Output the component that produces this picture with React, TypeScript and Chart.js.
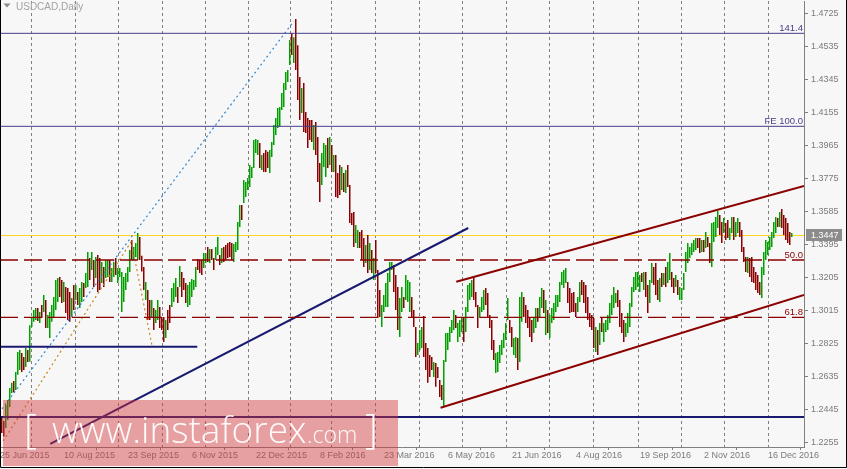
import React, { useEffect, useRef } from 'react';
import { Chart, registerables } from 'chart.js';

Chart.register(...registerables);

// ---- Daily USDCAD bars: high, low, direction (1 = up bar, 0 = down bar) ----
const barHigh = [
  1.2403,1.2380,1.2472,1.2501,1.2570,1.2600,1.2610,1.2662,1.2777,1.2788,
  1.2771,1.2748,1.2800,1.2788,1.2930,1.2978,1.3018,1.3030,1.3030,1.3007,
  1.3047,1.3105,1.3076,1.2990,1.3007,1.3047,1.3093,1.3191,1.3202,1.3208,
  1.3191,1.3179,1.3150,1.3145,1.3122,1.3087,1.3162,1.3162,1.3122,1.3145,
  1.3179,1.3173,1.3231,1.3352,1.3317,1.3352,1.3306,1.3323,1.3335,1.3317,
  1.3294,1.3265,1.3306,1.3306,1.3306,1.3260,1.3294,1.3317,1.3260,1.3260,
  1.3237,1.3208,1.3231,1.3265,1.3363,1.3421,1.3381,1.3404,1.3461,1.3438,
  1.3330,1.3265,1.3179,1.3133,1.3076,1.3076,1.3030,1.3018,1.3076,1.3036,
  1.2978,1.2978,1.2961,1.3018,1.3047,1.3145,1.3173,1.3202,1.3150,1.3271,
  1.3237,1.3202,1.3173,1.3162,1.3179,1.3196,1.3191,1.3265,1.3312,1.3306,
  1.3306,1.3346,1.3346,1.3381,1.3369,1.3369,1.3317,1.3381,1.3438,1.3335,
  1.3375,1.3381,1.3392,1.3404,1.3410,1.3404,1.3398,1.3410,1.3525,1.3622,
  1.3622,1.3766,1.3755,1.3778,1.3853,1.3841,1.3996,1.4002,1.3996,1.3979,
  1.3910,1.3922,1.3939,1.3928,1.3939,1.3985,1.4083,1.4123,1.4180,1.4186,
  1.4267,1.4324,1.4388,1.4399,1.4571,1.4611,1.4588,1.4692,1.4542,1.4359,
  1.4296,1.4324,1.4157,1.4123,1.4111,1.4111,1.4083,1.4100,1.4013,1.3864,
  1.3922,1.3979,1.3968,1.4008,1.4013,1.3968,1.3910,1.3910,1.3807,1.3853,
  1.3841,1.3807,1.3824,1.3853,1.3738,1.3576,1.3582,1.3507,1.3478,1.3467,
  1.3478,1.3433,1.3392,1.3450,1.3404,1.3363,1.3317,1.3421,1.3248,1.3133,
  1.3047,1.3105,1.3173,1.3231,1.3294,1.3294,1.3277,1.3219,1.3150,1.3087,
  1.3150,1.3093,1.3219,1.3191,1.3179,1.3093,1.3018,1.2921,1.2829,1.2903,
  1.2921,1.2984,1.2829,1.2800,1.2760,1.2748,1.2719,1.2713,1.2690,1.2616,
  1.2587,1.2731,1.2886,1.2886,1.2921,1.2961,1.3018,1.2990,1.2944,1.2961,
  1.2972,1.2972,1.3036,1.3162,1.3173,1.3191,1.3208,1.3122,1.3047,1.3036,
  1.3093,1.3133,1.3145,1.3116,1.2990,1.2961,1.2846,1.2771,1.2777,1.2817,
  1.2846,1.2886,1.2944,1.3087,1.2961,1.2921,1.2857,1.2863,1.2857,1.3093,
  1.3122,1.3093,1.3047,1.3018,1.2978,1.2961,1.2978,1.3030,1.3030,1.3093,
  1.3145,1.3133,1.3076,1.3018,1.2990,1.3030,1.3059,1.3105,1.3105,1.3179,
  1.3237,1.3248,1.3260,1.3179,1.3145,1.3116,1.3122,1.3059,1.3093,1.3179,
  1.3191,1.3179,1.3162,1.3093,1.3001,1.2990,1.2972,1.2921,1.2903,1.2944,
  1.2972,1.2944,1.2961,1.2990,1.3059,1.3105,1.3150,1.3116,1.3133,1.3076,
  1.3001,1.2961,1.2944,1.3001,1.3059,1.3150,1.3208,1.3237,1.3237,1.3219,
  1.3231,1.3237,1.3237,1.3162,1.3191,1.3289,1.3265,1.3289,1.3191,1.3202,
  1.3231,1.3231,1.3265,1.3294,1.3346,1.3237,1.3202,1.3219,1.3191,1.3150,
  1.3145,1.3231,1.3352,1.3404,1.3381,1.3404,1.3421,1.3433,1.3433,1.3433,
  1.3421,1.3421,1.3467,1.3438,1.3404,1.3519,1.3525,1.3553,1.3588,1.3565,
  1.3525,1.3547,1.3519,1.3536,1.3490,1.3553,1.3553,1.3525,1.3547,1.3525,
  1.3478,1.3381,1.3323,1.3323,1.3317,1.3323,1.3265,1.3237,1.3219,1.3179,
  1.3265,1.3352,1.3421,1.3410,1.3438,1.3467,1.3525,1.3553,1.3547,1.3582,
  1.3599,1.3565,1.3547,1.3519,1.3467,1.3461,
];
const barLow = [
  1.2310,1.2290,1.2340,1.2386,1.2460,1.2540,1.2545,1.2558,1.2645,1.2673,
  1.2662,1.2673,1.2690,1.2719,1.2720,1.2921,1.2950,1.2961,1.2955,1.2944,
  1.2972,1.3007,1.2915,1.2915,1.2857,1.2950,1.2972,1.3018,1.3064,1.3093,
  1.3059,1.3064,1.3001,1.2961,1.2950,1.2978,1.3018,1.3076,1.3047,1.3030,
  1.3064,1.3093,1.3145,1.3150,1.3191,1.3248,1.3150,1.3202,1.3122,1.3133,
  1.3173,1.3150,1.3202,1.3208,1.3179,1.3179,1.3208,1.3219,1.3173,1.3208,
  1.3007,1.3064,1.3133,1.3179,1.3237,1.3306,1.3306,1.3323,1.3306,1.3306,
  1.3240,1.3133,1.3076,1.2961,1.2961,1.2972,1.2903,1.2944,1.2961,1.2915,
  1.2903,1.2834,1.2857,1.2903,1.2944,1.3036,1.3064,1.3093,1.3059,1.3150,
  1.3093,1.3133,1.3059,1.3036,1.3047,1.3093,1.3133,1.3150,1.3248,1.3231,
  1.3219,1.3260,1.3289,1.3294,1.3289,1.3306,1.3248,1.3306,1.3335,1.3277,
  1.3289,1.3294,1.3306,1.3317,1.3323,1.3306,1.3294,1.3352,1.3363,1.3496,
  1.3536,1.3634,1.3668,1.3709,1.3726,1.3778,1.3835,1.3922,1.3910,1.3835,
  1.3824,1.3812,1.3812,1.3835,1.3806,1.3899,1.3968,1.4025,1.4065,1.4071,
  1.4169,1.4186,1.4284,1.4330,1.4428,1.4485,1.4439,1.4399,1.4226,1.4111,
  1.4152,1.4042,1.4036,1.3950,1.3996,1.3985,1.3939,1.3910,1.3755,1.3639,
  1.3738,1.3841,1.3784,1.3835,1.3853,1.3812,1.3812,1.3668,1.3663,1.3680,
  1.3709,1.3697,1.3691,1.3726,1.3519,1.3507,1.3381,1.3404,1.3375,1.3375,
  1.3306,1.3265,1.3289,1.3231,1.3248,1.3231,1.3191,1.3231,1.2972,1.2978,
  1.2921,1.3007,1.3036,1.3036,1.3179,1.3248,1.3122,1.3018,1.2903,1.2863,
  1.3007,1.3030,1.3076,1.3064,1.3007,1.2972,1.2921,1.2748,1.2760,1.2788,
  1.2800,1.2748,1.2673,1.2599,1.2633,1.2673,1.2633,1.2576,1.2627,1.2518,
  1.2501,1.2461,1.2719,1.2788,1.2834,1.2886,1.2903,1.2915,1.2834,1.2863,
  1.2892,1.2834,1.2892,1.3007,1.3076,1.3093,1.3076,1.3036,1.2915,1.2972,
  1.3007,1.3018,1.3047,1.2978,1.2915,1.2788,1.2731,1.2656,1.2662,1.2713,
  1.2760,1.2800,1.2846,1.2961,1.2886,1.2806,1.2760,1.2742,1.2673,1.2719,
  1.2950,1.2978,1.2944,1.2915,1.2863,1.2834,1.2886,1.2915,1.2950,1.2978,
  1.3030,1.3001,1.2874,1.2886,1.2857,1.2944,1.2961,1.3007,1.3036,1.3064,
  1.3162,1.3145,1.3173,1.3059,1.3001,1.3007,1.3007,1.2978,1.3007,1.3064,
  1.3105,1.3059,1.3001,1.2961,1.2921,1.2903,1.2800,1.2777,1.2760,1.2817,
  1.2892,1.2834,1.2892,1.2903,1.2944,1.2990,1.3030,1.3059,1.3036,1.2921,
  1.2886,1.2834,1.2863,1.2886,1.2921,1.3036,1.3122,1.3133,1.3150,1.3122,
  1.3179,1.3133,1.3093,1.3001,1.3059,1.3173,1.3162,1.3105,1.3076,1.3064,
  1.3150,1.3162,1.3150,1.3173,1.3191,1.3150,1.3116,1.3150,1.3105,1.3076,
  1.3076,1.3133,1.3237,1.3289,1.3317,1.3335,1.3352,1.3363,1.3375,1.3346,
  1.3352,1.3352,1.3375,1.3381,1.3289,1.3265,1.3410,1.3438,1.3490,1.3450,
  1.3404,1.3461,1.3421,1.3433,1.3421,1.3461,1.3421,1.3438,1.3461,1.3438,
  1.3352,1.3294,1.3237,1.3231,1.3208,1.3179,1.3173,1.3133,1.3116,1.3105,
  1.3087,1.3219,1.3306,1.3335,1.3363,1.3381,1.3433,1.3461,1.3496,1.3496,
  1.3490,1.3450,1.3421,1.3404,1.3392,1.3438,
];
const barUp = [
  0,0,1,1,1,1,0,1,1,1, 0,0,1,0,1,1,1,1,0,1, 0,1,0,1,1,1,1,1,1,0, 0,1,0,0,0,1,0,1,0,1,
  1,0,1,1,0,1,0,1,0,0, 1,0,1,1,0,1,1,0,1,1, 1,1,1,1,1,0,1,1,1,0, 0,0,1,0,0,1,0,1,1,0,
  0,0,1,0,0,1,1,1,0,1, 0,0,0,1,1,1,1,1,0,0, 0,1,1,0,1,0,0,1,1,0, 1,0,0,0,0,0,1,1,1,1,
  0,1,1,1,1,1,1,1,1,0, 1,0,0,0,1,1,1,1,1,1, 1,1,1,1,1,0,1,0,0,0, 1,0,0,0,0,0,1,0,0,0,
  1,1,1,0,1,0,1,0,0,0, 1,0,1,0,0,0,0,1,1,0, 0,0,1,0,1,0,1,0,0,0, 1,1,1,1,1,1,0,0,0,1,
  1,0,1,1,1,0,0,0,1,1, 1,0,0,0,0,0,1,0,0,0, 0,1,1,1,1,1,1,0,1,1, 1,0,1,1,1,1,0,0,0,1,
  1,1,0,0,0,0,0,1,1,1, 1,1,1,1,0,0,1,1,0,1, 1,0,0,0,0,0,1,1,0,1, 1,0,1,0,1,1,1,1,1,1,
  1,1,1,0,0,0,0,0,1,1, 0,0,0,0,0,0,0,1,0,1, 0,1,1,1,1,1,1,1,0,0, 0,0,1,1,1,1,1,1,1,1,
  0,1,0,0,1,1,0,0,0,1, 0,1,0,1,1,0,0,1,0,1, 1,1,1,1,1,1,1,1,0,0, 1,0,1,0,0,1,1,1,1,0,
  0,1,0,0,1,1,0,1,1,0, 0,0,0,1,0,0,0,0,0,0, 1,1,1,1,1,1,1,1,0,1, 0,0,0,0,0,1,
];

// ---- axes ----
const xTickBars = [0, 32, 64, 96, 128, 160, 192, 224, 256, 288, 320, 352, 384];
const xTickLabels = ['25 Jun 2015', '10 Aug 2015', '23 Sep 2015', '6 Nov 2015', '22 Dec 2015', '8 Feb 2016',
  '23 Mar 2016', '6 May 2016', '21 Jun 2016', '4 Aug 2016', '19 Sep 2016', '2 Nov 2016', '16 Dec 2016'];
const monthStartBars = [4, 27, 48, 70, 92, 113, 135, 155, 176, 199, 220, 242, 264, 285, 308, 330, 351, 373, 395];
const priceTicks = [1.4725, 1.4535, 1.4345, 1.4155, 1.3965, 1.3775, 1.3585, 1.3395, 1.3205, 1.3015, 1.2825, 1.2635, 1.2445, 1.2255];
const lastPrice = 1.3447;

// ---- drawn objects ----
const expansionLabels = ['141.4', 'FE 100.0'];
const expansionPrices = [1.4610, 1.4075];
const retraceLabels = ['50.0', '61.8'];
const retracePrices = [1.3306, 1.2976];
const supportShortBars = [-0.875, 97.75];
const supportShortPrice = 1.2807;
const supportLowPrice = 1.2403;
const trendBars = [24.25, 233.25];
const trendPrices = [1.2248, 1.3490];
const channelUpperBars = [227.25, 401.125];
const channelUpperPrices = [1.3181, 1.3732];
const channelLowerBars = [219.4, 401.125];
const channelLowerPrices = [1.2456, 1.3105];
const fiboBars = [0.1, 146.1];
const fiboPrices = [1.2449, 1.4681];
const expansionPathBars = [0.75, 64.75, 75.25];
const expansionPathPrices = [1.2265, 1.3412, 1.2806];

const X_MIN = -0.875;
const X_MAX = 401.125;
const X_SHIFT = 0.875;
const Y_MIN = 1.2230;
const Y_MAX = 1.4796;

const AXIS_FONT = { family: '"Liberation Sans", Arial, sans-serif', size: 9 };
const AXIS_COLOR = '#7b7b7b';
const UP = 'rgb(0,160,0)';
const DOWN = 'rgb(139,0,0)';

function seg(xs: number[], ys: number[]) {
  return xs.map((x, k) => ({ x, y: ys[k] }));
}

function lineDs(data: any[], color: string, width: number, dash: number[] = [], order = 1) {
  return {
    type: 'line' as const,
    data,
    borderColor: color,
    borderWidth: width,
    borderDash: dash,
    pointRadius: 0,
    fill: false,
    tension: 0,
    order,
    xAxisID: 'x',
    yAxisID: 'y',
  };
}

const decor = {
  id: 'decor',
  beforeDraw(chart: any) {
    const { ctx, width, height } = chart;
    ctx.save();
    ctx.fillStyle = '#f7f7f7';
    ctx.fillRect(0, 0, width, height);
    ctx.restore();
  },
  afterDatasetsDraw(chart: any) {
    const { ctx, chartArea, scales } = chart;
    const ys = scales.y;
    ctx.save();
    ctx.font = '9.5px "Liberation Sans", Arial, sans-serif';
    ctx.textAlign = 'right';
    ctx.textBaseline = 'alphabetic';
    expansionLabels.forEach((t, k) => {
      ctx.fillStyle = '#483d8b';
      ctx.fillText(t, chartArea.right - 1, Math.round(ys.getPixelForValue(expansionPrices[k])) - 2);
    });
    retraceLabels.forEach((t, k) => {
      ctx.fillStyle = '#8b0000';
      ctx.fillText(t, chartArea.right - 1, Math.round(ys.getPixelForValue(retracePrices[k])) - 2);
    });
    ctx.textAlign = 'left';
    ctx.fillStyle = '#a3a3a3';
    ctx.font = '10px "Liberation Sans", Arial, sans-serif';
    ctx.fillText('USDCAD,Daily', 16, 10);
    ctx.beginPath();
    ctx.moveTo(3.5, 3.5);
    ctx.lineTo(10.5, 3.5);
    ctx.lineTo(7, 7.5);
    ctx.closePath();
    ctx.fillStyle = '#8a8a8a';
    ctx.fill();
    ctx.restore();
  },
  afterDraw(chart: any) {
    const { ctx, chartArea, scales, width, height } = chart;
    const ys = scales.y;
    ctx.save();
    const py = Math.round(ys.getPixelForValue(lastPrice));
    ctx.fillStyle = '#8c8c8c';
    ctx.fillRect(chartArea.right + 2, py - 6, 36, 12);
    ctx.fillStyle = '#ffffff';
    ctx.font = '9px "Liberation Sans", Arial, sans-serif';
    ctx.textAlign = 'left';
    ctx.textBaseline = 'middle';
    ctx.fillText(lastPrice.toFixed(4), chartArea.right + 7, py + 0.5);
    ctx.fillStyle = 'rgba(211,53,55,0.45)';
    ctx.fillRect(3, 400, 395, 66);
    ctx.fillStyle = 'rgba(255,255,255,0.95)';
    ctx.textBaseline = 'alphabetic';
    ctx.font = '300 40px "Open Sans", sans-serif';
    ctx.fillText('[', 24, 443);
    ctx.fillText(']', 365, 443);
    ctx.font = '300 37px "Open Sans", sans-serif';
    ctx.fillText('www.instaforex', 52, 443);
    ctx.font = '300 23px "Open Sans", sans-serif';
    ctx.fillText('.com', 307, 443);
    ctx.strokeStyle = '#000000';
    ctx.lineWidth = 1;
    ctx.beginPath();
    ctx.moveTo(0.5, 0);
    ctx.lineTo(0.5, height - 1.5);
    ctx.lineTo(width - 0.5, height - 1.5);
    ctx.lineTo(width - 0.5, 0);
    ctx.stroke();
    ctx.restore();
  },
};

export default function App() {
  const ref = useRef<HTMLCanvasElement>(null);

  useEffect(() => {
    const canvas = ref.current;
    if (!canvas) return;

    const bars = {
      type: 'bar' as const,
      data: barHigh.map((h, i) => ({ x: i, y: [barLow[i], h] })),
      backgroundColor: (c: any) => (barUp[c.dataIndex] ? UP : DOWN),
      borderWidth: 0,
      barThickness: 1.5,
      inflateAmount: 0,
      grouped: false,
      order: 5,
      xAxisID: 'x',
      yAxisID: 'y',
    };

    const datasets: any[] = [
      bars,
      lineDs(seg([X_MIN, X_MAX], [lastPrice, lastPrice]), '#ffd21f', 1, [], 10),
      lineDs(seg([X_MIN, X_MAX], [expansionPrices[0], expansionPrices[0]]), '#483d8b', 1),
      lineDs(seg([X_MIN, X_MAX], [expansionPrices[1], expansionPrices[1]]), '#483d8b', 1),
      lineDs(seg([X_MIN, X_MAX], [retracePrices[0], retracePrices[0]]), '#8b0000', 1.3, [18, 6]),
      lineDs(seg([X_MIN, X_MAX], [retracePrices[1], retracePrices[1]]), '#8b0000', 1.3, [18, 6]),
      lineDs(seg(supportShortBars, [supportShortPrice, supportShortPrice]), '#191970', 2),
      lineDs(seg([X_MIN, X_MAX], [supportLowPrice, supportLowPrice]), '#191970', 2),
      lineDs(seg(trendBars, trendPrices), '#191970', 2),
      lineDs(seg(channelUpperBars, channelUpperPrices), '#8b0000', 2),
      lineDs(seg(channelLowerBars, channelLowerPrices), '#8b0000', 2),
      lineDs(seg(fiboBars, fiboPrices), '#2f86d6', 1.2, [2, 3]),
      lineDs(seg(expansionPathBars, expansionPathPrices), '#c8861a', 1.2, [2, 3]),
    ];

    const chart = new Chart(canvas, {
      type: 'bar',
      data: { datasets },
      plugins: [decor],
      options: {
        responsive: false,
        maintainAspectRatio: false,
        devicePixelRatio: 1,
        animation: false,
        events: [],
        layout: { autoPadding: false, padding: { top: 1, left: 0, right: 0, bottom: 0 } },
        plugins: { legend: { display: false }, tooltip: { enabled: false }, colors: { enabled: false } },
        scales: {
          x: {
            type: 'linear',
            position: 'bottom',
            min: X_MIN,
            max: X_MAX,
            bounds: 'data',
            offset: false,
            afterBuildTicks: (s: any) => { s.ticks = xTickBars.map((b) => ({ value: b - X_SHIFT })); },
            afterFit: (s: any) => { s.height = 22; s.paddingLeft = 0; s.paddingRight = 0; },
            ticks: {
              autoSkip: false,
              maxRotation: 0,
              minRotation: 0,
              align: 'start',
              padding: 0,
              color: AXIS_COLOR,
              font: AXIS_FONT,
              callback: (_v: any, i: number) => xTickLabels[i],
            },
            grid: { drawOnChartArea: false, drawTicks: true, tickLength: 3, color: '#808080' },
            border: { display: true, color: '#808080' },
          },
          xg: {
            type: 'linear',
            position: 'bottom',
            min: X_MIN,
            max: X_MAX,
            bounds: 'data',
            offset: false,
            afterBuildTicks: (s: any) => { s.ticks = monthStartBars.map((b) => ({ value: b - X_SHIFT })); },
            afterFit: (s: any) => { s.height = 0; s.paddingLeft = 0; s.paddingRight = 0; },
            ticks: { display: false },
            grid: { drawOnChartArea: true, drawTicks: false, color: '#808080', lineWidth: 1 },
            border: { display: false, dash: [3, 3] },
          },
          y: {
            type: 'linear',
            position: 'right',
            min: Y_MIN,
            max: Y_MAX,
            bounds: 'data',
            afterBuildTicks: (s: any) => { s.ticks = priceTicks.map((v) => ({ value: v })); },
            afterFit: (s: any) => { s.width = 43; s.paddingTop = 0; s.paddingBottom = 0; },
            ticks: {
              padding: 3,
              color: AXIS_COLOR,
              font: AXIS_FONT,
              callback: (v: any) => Number(v).toFixed(4),
            },
            grid: { drawOnChartArea: false, drawTicks: true, tickLength: 4, color: '#808080' },
            border: { display: true, color: '#808080' },
          },
        },
      } as any,
    });

    return () => chart.destroy();
  }, []);

  return (
    <div style={{ position: 'absolute', left: 0, top: 0, width: 847, height: 469 }}>
      <canvas ref={ref} width={847} height={469} style={{ display: 'block', width: 847, height: 469 }} />
    </div>
  );
}
